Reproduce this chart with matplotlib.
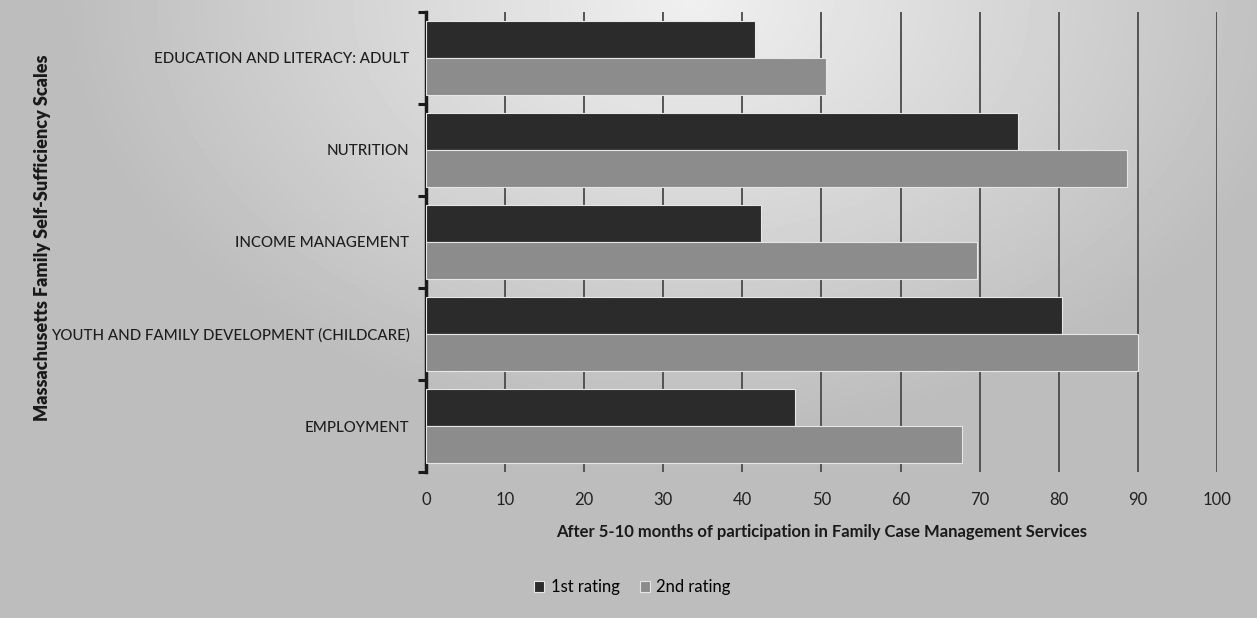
import matplotlib.pyplot as plt
import numpy as np

# scales, listed bottom to top as they appear on the chart
scales = ['EMPLOYMENT',
          'YOUTH AND FAMILY DEVELOPMENT (CHILDCARE)',
          'INCOME MANAGEMENT',
          'NUTRITION',
          'EDUCATION AND LITERACY: ADULT']
first_rating = [46.7, 80.4, 42.3, 74.8, 41.6]
second_rating = [67.8, 90.0, 69.7, 88.6, 50.6]
xticks = [0, 10, 20, 30, 40, 50, 60, 70, 80, 90, 100]

font = ['Lato', 'DejaVu Sans']
plt.rcParams['font.family'] = font

fig = plt.figure(figsize=(12.57, 6.18), dpi=100)

# soft grey backdrop, brighter near the top middle
bg = fig.add_axes([0, 0, 1, 1], zorder=-10)
gx, gy = np.meshgrid(np.linspace(0, 1, 400), np.linspace(0, 1, 200))
d = np.sqrt(((gx - 0.55) / 0.5) ** 2 + ((gy - 0.0) / 0.7) ** 2)
shade = 0.94 - 0.2 * np.clip(d, 0, 1)
bg.imshow(shade, cmap='gray', vmin=0, vmax=1, aspect='auto',
          extent=[0, 1, 1, 0], interpolation='bicubic')
bg.axis('off')

ax = fig.add_axes([0.339, 0.236, 0.629, 0.745])
ax.patch.set_alpha(0)

y = np.arange(len(scales))
h = 0.4
ax.barh(y + h / 2, first_rating, height=h, color='#2b2b2b',
        edgecolor='#e6e6e6', linewidth=0.8, label='1st rating', zorder=3)
ax.barh(y - h / 2, second_rating, height=h, color='#8c8c8c',
        edgecolor='#e6e6e6', linewidth=0.8, label='2nd rating', zorder=3)

ax.set_xlim(0, 100)
ax.set_ylim(-0.5, len(scales) - 0.5)
ax.set_xticks(xticks)
ax.set_xticklabels([str(t) for t in xticks], fontsize=12, color='#222222')
ax.tick_params(axis='x', length=0, pad=14)
ax.grid(axis='x', color='#4a4a4a', linewidth=1.3, zorder=0)

# category labels sit between the group boundary ticks
ax.set_yticks(np.arange(-0.5, len(scales), 1.0))
ax.set_yticklabels([])
ax.set_yticks(y, minor=True)
ax.set_yticklabels(scales, minor=True, fontsize=10.8, fontweight='medium',
                   color='#1e1e1e')
ax.tick_params(axis='y', which='major', length=6, width=2.2, color='#1a1a1a')
ax.tick_params(axis='y', which='minor', length=0, pad=12)

for s in ['top', 'right', 'bottom']:
    ax.spines[s].set_visible(False)
ax.spines['left'].set_linewidth(2.5)
ax.spines['left'].set_color('#1a1a1a')

ax.set_xlabel('After 5-10 months of participation in Family Case Management Services',
              fontsize=12, fontweight='bold', color='#1a1a1a', labelpad=12)
fig.text(0.034, 0.615, 'Massachusetts Family Self-Sufficiency Scales',
         rotation=90, ha='center', va='center', fontsize=13,
         fontweight='heavy', color='#1a1a1a', family=font)

fig.legend(loc='center', bbox_to_anchor=(0.503, 0.05), ncol=2, frameon=False,
           fontsize=12, handlelength=0.6, handleheight=0.6, handletextpad=0.4,
           columnspacing=1.2)

fig.savefig('out.png', dpi=100)
